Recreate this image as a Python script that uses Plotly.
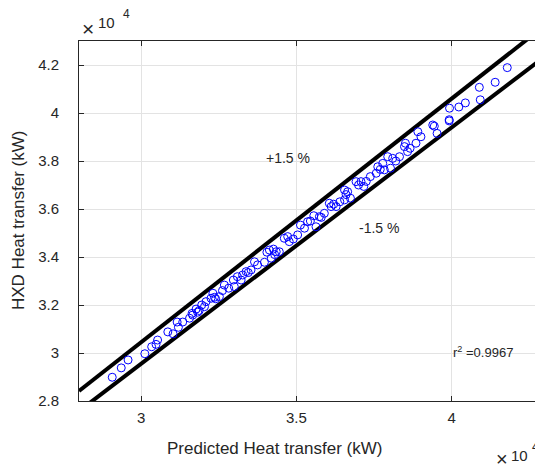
import plotly.graph_objects as go

# Predicted vs measured heat transfer, kW
predicted = [29070, 29360, 29580, 30120, 30340, 30480, 30530, 30860, 31030, 31160,
             31200, 31340, 31560, 31640, 31660, 31820, 31770, 32040, 32090, 32250,
             32310, 32360, 32520, 32680, 32820, 32970, 33000, 33220, 33270, 33380,
             33540, 33650, 33750, 33970, 34130, 34260, 34350, 34190, 34450, 34610,
             34720, 34770, 35040, 35130, 35260, 35360, 35560, 35630, 35740, 35900,
             36060, 36120, 36280, 36550, 36650, 36550, 36740, 36920, 37080, 37170,
             37380, 37570, 37620, 37780, 37830, 37940, 38030, 38100, 38320, 38480,
             38510, 38580, 38850, 38910, 39010, 39390, 39530, 39920, 39920, 39930,
             40230, 40440, 40890, 40920, 41400, 41790,
             31870, 31950, 32400, 32620, 33100, 33450, 34300, 34050, 34900, 35450,
             35800, 36200, 36400, 36600, 37000, 37250, 37700, 38200, 38660, 39440]
measured = [28990, 29380, 29710, 29970, 30260, 30360, 30540, 30880, 30800, 31290,
            31070, 31290, 31450, 31650, 31580, 31700, 31830, 31930, 32140, 32280,
            32490, 32320, 32350, 32830, 32700, 33040, 32770, 33040, 33250, 33390,
            33460, 33800, 33670, 33780, 34290, 34330, 34220, 33950, 34220, 34780,
            34850, 34640, 34920, 35330, 35200, 35470, 35720, 35260, 35680, 35820,
            36240, 36100, 36100, 36790, 36720, 36380, 36450, 37140, 37140, 36940,
            37350, 37490, 37760, 37900, 37630, 38180, 37700, 38110, 38180, 38600,
            38740, 38390, 38740, 39220, 39010, 39500, 39150, 39720, 39670, 40200,
            40250, 40420, 41070, 40550, 41280, 41890,
            31770, 32000, 32260, 32600, 33180, 33350, 34100, 34200, 34750, 35500,
            35650, 36200, 36300, 36600, 37000, 37150, 37650, 38000, 38530, 39450]

band_x = [28000, 43000]
upper_factor = 1.015
lower_factor = 0.985
r2_text = "r<sup>2</sup> =0.9967"

font = "Liberation Sans, Arial, sans-serif"
axis_col = "#262626"
grid_col = "#e3e3e3"

# page body has an 8px margin; build the figure so it lands on the reference pixels
OFF = 8
W, H = 543 - OFF, 469 - OFF
L, T, R = 79 - OFF, 41 - OFF, 0
B = H - (401 - OFF)

fig = go.Figure()
fig.add_trace(go.Scatter(x=band_x, y=[v * upper_factor for v in band_x], mode="lines",
                         line=dict(color="black", width=4), showlegend=False))
fig.add_trace(go.Scatter(x=band_x, y=[v * lower_factor for v in band_x], mode="lines",
                         line=dict(color="black", width=4), showlegend=False))
fig.add_trace(go.Scatter(x=predicted, y=measured, mode="markers",
                         marker=dict(symbol="circle-open", size=8, color="#0000ff",
                                     line=dict(width=1, color="#0000ff")),
                         showlegend=False))

fig.update_layout(
    width=W, height=H,
    margin=dict(l=L, r=R, t=T, b=B, pad=0),
    paper_bgcolor="white", plot_bgcolor="white",
    font=dict(family=font, color="#262626"),
    xaxis=dict(range=[28000, 42940], tickvals=[30000, 35000, 40000],
               ticktext=["3", "3.5", "4"], showgrid=True, gridcolor=grid_col,
               gridwidth=1, zeroline=False, showline=True, linecolor=axis_col,
               linewidth=1, mirror="ticks", ticks="inside", ticklen=5,
               tickcolor=axis_col, tickfont=dict(size=15, color="#262626"),
               ticklabelstandoff=3),
    yaxis=dict(range=[28000, 43000],
               tickvals=[28000, 30000, 32000, 34000, 36000, 38000, 40000, 42000],
               ticktext=["2.8", "3", "3.2", "3.4", "3.6", "3.8", "4", "4.2"],
               showgrid=True, gridcolor=grid_col, gridwidth=1, zeroline=False,
               showline=True, linecolor=axis_col, linewidth=1, mirror=False,
               ticks="inside", ticklen=5, tickcolor=axis_col,
               tickfont=dict(size=15, color="#262626"), ticklabelstandoff=16),
)

ann = []
def px(x):  # reference page pixel -> paper fraction
    return (x - OFF - L) / (W - L - R)
def py(y):
    return (H - B - (y - OFF)) / (H - B - T)

def add(text, x, y, size, xanchor="center", angle=0):
    ann.append(dict(text=text, x=px(x), y=py(y), xref="paper", yref="paper",
                    xanchor=xanchor, yanchor="middle", showarrow=False,
                    textangle=angle, borderpad=0,
                    font=dict(size=size, family=font, color="#262626")))

add("Predicted Heat transfer (kW)", 274, 448, 17)
add("HXD Heat transfer (kW)", 18, 221, 17, angle=-90)
add("+1.5 %", 288, 158, 14)
add("-1.5 %", 379, 228.5, 14)
add(r2_text, 452, 352, 13, xanchor="left")
add("×", 88.3, 29, 21)
add("10", 106.3, 22.5, 15)
add("4", 126, 14, 12)
add("×", 501.7, 459, 20)
add("10", 519, 455.5, 15)
add("4", 535, 447, 12)
fig.update_layout(annotations=ann)

fig.write_html("out.html")
